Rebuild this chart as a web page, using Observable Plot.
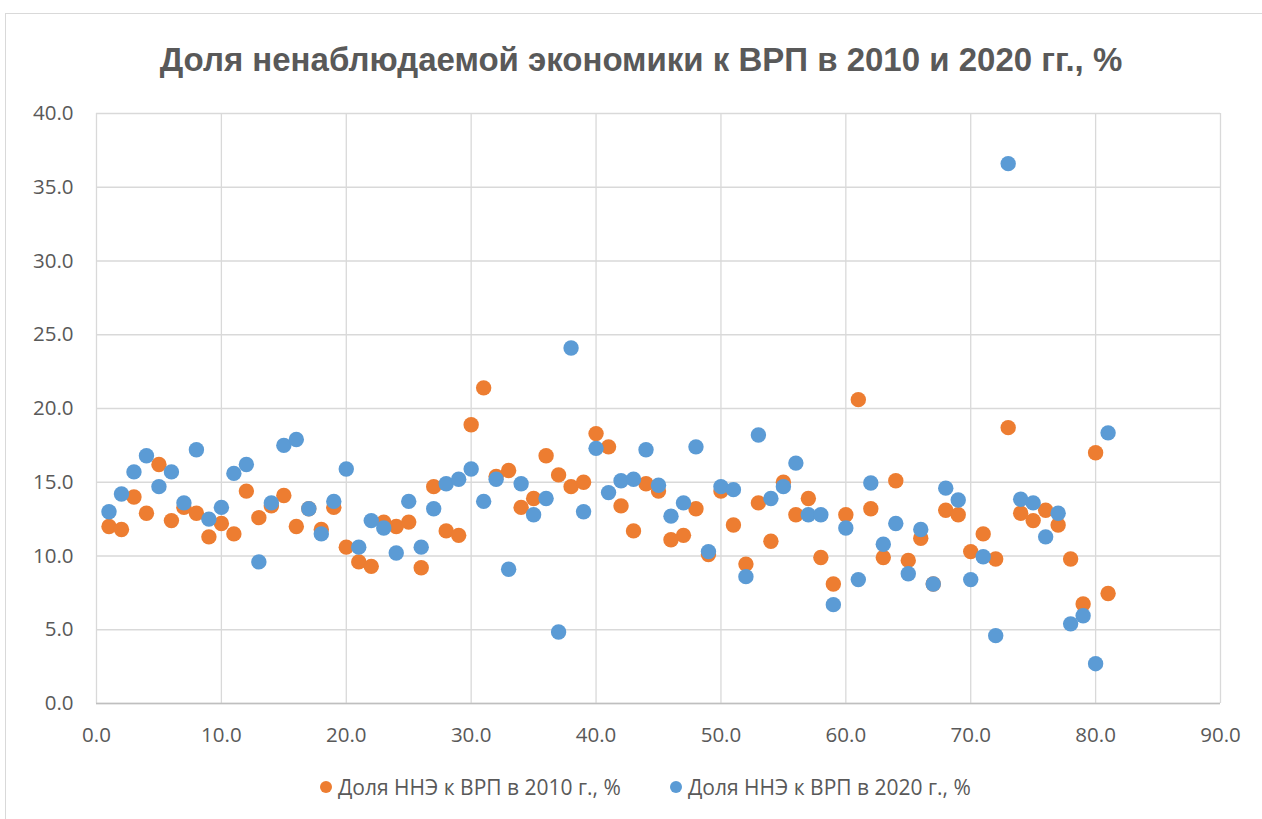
<!DOCTYPE html>
<html>
<head>
<meta charset="utf-8">
<script src="https://cdn.jsdelivr.net/npm/d3@7"></script>
<script src="https://cdn.jsdelivr.net/npm/@observablehq/plot@0.6"></script>
<style>
  html, body { margin: 0; padding: 0; background: #fff; }
  #wrap { position: relative; width: 1262px; height: 819px; overflow: hidden; background: #fff; }
  #border { position: absolute; left: 5px; top: 13px; width: 1400px; height: 1000px; border: 1px solid #d9d9d9; box-sizing: border-box; }
  #title { position: absolute; left: 10px; width: 1262px; top: 37px; line-height: 46px; text-align: center;
           font-family: "Liberation Sans", sans-serif; font-weight: bold; font-size: 33px; color: #595959; }
  #chart { position: absolute; left: 0; top: 100px; }
  .leg { position: absolute; top: 774px; height: 26px; line-height: 26px; font-family: "Open Sans", sans-serif;
         font-size: 21px; color: #595959; white-space: nowrap; }
  .sw { position: absolute; width: 12px; height: 12px; border-radius: 50%; top: 7px; }
</style>
</head>
<body>
<div id="wrap">
  <div id="border"></div>
  <div id="title">Доля ненаблюдаемой экономики к ВРП в 2010 и 2020 гг., %</div>
  <div id="chart"></div>
  <div class="leg" style="left:320px;"><span class="sw" style="left:0;background:#ED7D31"></span><span style="position:absolute;left:18px;">Доля ННЭ к ВРП в 2010 г., %</span></div>
  <div class="leg" style="left:670px;"><span class="sw" style="left:0;background:#5B9BD5"></span><span style="position:absolute;left:18px;">Доля ННЭ к ВРП в 2020 г., %</span></div>
</div>
<script>
const xs = [1,2,3,4,5,6,7,8,9,10,11,12,13,14,15,16,17,18,19,20,
            21,22,23,24,25,26,27,28,29,30,31,32,33,34,35,36,37,38,39,40,
            41,42,43,44,45,46,47,48,49,50,51,52,53,54,55,56,57,58,59,60,
            61,62,63,64,65,66,67,68,69,70,71,72,73,74,75,76,77,78,79,80,81];

const share2010 = [12.0,11.8,14.0,12.9,16.2,12.4,13.3,12.9,11.3,12.2,
                   11.5,14.4,12.6,13.4,14.1,12.0,13.2,11.8,13.3,10.6,
                   9.6,9.3,12.3,12.0,12.3,9.2,14.7,11.7,11.4,18.9,
                   21.4,15.4,15.8,13.3,13.9,16.8,15.5,14.7,15.0,18.3,
                   17.4,13.4,11.7,14.9,14.4,11.1,11.4,13.2,10.1,14.4,
                   12.1,9.45,13.6,11.0,15.0,12.8,13.9,9.9,8.1,12.8,
                   20.6,13.2,9.9,15.1,9.7,11.2,8.1,13.1,12.8,10.3,
                   11.5,9.8,18.7,12.9,12.4,13.1,12.1,9.8,6.75,17.0,7.46];

const share2020 = [13.0,14.2,15.7,16.8,14.7,15.7,13.6,17.2,12.5,13.3,
                   15.6,16.2,9.6,13.6,17.5,17.9,13.2,11.5,13.7,15.9,
                   10.6,12.4,11.9,10.2,13.7,10.6,13.2,14.9,15.2,15.9,
                   13.7,15.2,9.1,14.9,12.8,13.9,4.85,24.1,13.0,17.3,
                   14.3,15.1,15.2,17.2,14.8,12.7,13.6,17.4,10.3,14.7,
                   14.5,8.6,18.2,13.9,14.7,16.3,12.8,12.8,6.7,11.9,
                   8.4,14.95,10.8,12.2,8.8,11.8,8.1,14.6,13.8,8.4,
                   9.95,4.6,36.6,13.85,13.6,11.3,12.9,5.4,5.95,2.7,18.35];

const xTicks = [0,10,20,30,40,50,60,70,80,90];
const yTicks = [0,5,10,15,20,25,30,35,40];

const d2010 = xs.map((x, i) => ({x, y: share2010[i]}));
const d2020 = xs.map((x, i) => ({x, y: share2020[i]}));
const fmt = d => d.toFixed(1);

const chart = Plot.plot({
  width: 1262,
  height: 660,
  marginLeft: 96,
  marginRight: 42,
  marginTop: 13,
  marginBottom: 57,
  x: {domain: [0, 90]},
  y: {domain: [0, 40]},
  style: {fontFamily: "Open Sans, sans-serif", fontSize: "20.5px", color: "#595959", background: "transparent", overflow: "visible"},
  marks: [
    Plot.gridX(xTicks, {stroke: "#d9d9d9", strokeOpacity: 1, strokeWidth: 1.3}),
    Plot.gridY(yTicks, {stroke: "#d9d9d9", strokeOpacity: 1, strokeWidth: 1.3}),
    Plot.ruleY([0], {stroke: "#bfbfbf", strokeWidth: 1.3}),
    Plot.axisX(xTicks, {tickSize: 0, tickPadding: 24, tickFormat: fmt, fill: "#595959", label: null}),
    Plot.axisY(yTicks, {tickSize: 0, tickPadding: 23, tickFormat: fmt, fill: "#595959", label: null}),
    Plot.dot(d2010, {x: "x", y: "y", r: 7.7, fill: "#ED7D31"}),
    Plot.dot(d2020, {x: "x", y: "y", r: 7.7, fill: "#5B9BD5"})
  ]
});
document.getElementById("chart").appendChild(chart);
</script>
</body>
</html>
